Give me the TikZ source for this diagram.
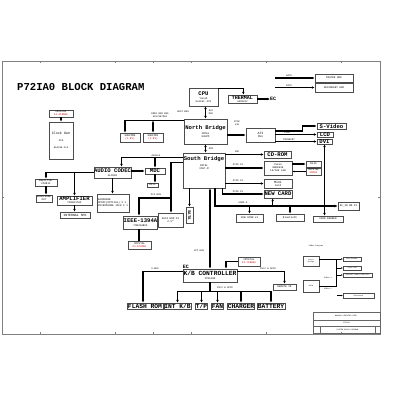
\documentclass[tikz,border=0pt]{standalone}
\usepackage{fontspec}
\newfontfamily\mono{Liberation Mono}
\usetikzlibrary{arrows.meta,calc}
\newcommand\bx[7][]{\node[box,minimum width={(#5-#3)*1pt},minimum height={(#6-#4)*1pt},#1] (#2) at ({(#3+#5)/2},{(#4+#6)/2}) {#7};}
\newcommand\B[1]{{\bfseries\fontsize{5.6}{6}\selectfont #1}}
\newcommand\BB[1]{{\bfseries\fontsize{6.3}{6.5}\selectfont #1}}
\newcommand\R[1]{\textcolor{red!80!black}{#1}}
\tikzset{
 box/.style={draw=black!70,line width=0.7pt,inner sep=0pt,align=center,font=\mono\fontsize{2.6}{3}\selectfont},
 arr/.style={line width=1.2pt,-{Latex[length=2.8pt,width=2.6pt]}},
 darr/.style={line width=1.2pt,{Latex[length=2.8pt,width=2.6pt]}-{Latex[length=2.8pt,width=2.6pt]}},
 ln/.style={line width=1.2pt},
 bus/.style={line width=1.8pt,-{Latex[length=3.2pt,width=3pt]}},
 lbl/.style={font=\mono\fontsize{2.4}{2.8}\selectfont,inner sep=0pt},
 tiny/.style={font=\mono\fontsize{1.8}{2.1}\selectfont,inner sep=0pt,align=center},
 ubox/.style={line width=0.35pt,font=\mono\fontsize{1.7}{2}\selectfont},
 uarr/.style={line width=0.35pt,-{Latex[length=1.6pt,width=1.4pt]}},
}
\begin{document}
\begin{tikzpicture}[x=1pt,y=-1pt]
\useasboundingbox[fill=white] (0,0) rectangle (400,400);
% frame
\draw[gray,line width=0.8pt] (2,61) rectangle (380,334);
\foreach \x in {40,115,153,191,266,341} {\draw[gray] (\x,61) -- (\x,63); \draw[gray] (\x,334) -- (\x,332);}
\draw[gray] (2,197) -- (4,197); \draw[gray] (380,197) -- (378,197);
% title
\node[font=\mono\bfseries\fontsize{10.6}{12}\selectfont,anchor=west,inner sep=0pt] (title) at (17,87) {P72IA0 BLOCK DIAGRAM};
% top
\bx{cpu}{189}{88}{218}{106}{\B{CPU}\\[1pt]Yonah\\Socket 479}
\bx{therm}{228}{95}{257}{103}{\bfseries\fontsize{5}{5}\selectfont THERMAL\\\mdseries\fontsize{2.4}{3}\selectfont ADM1032}
\node[font=\mono\bfseries\fontsize{5}{5}\selectfont,anchor=west,inner sep=0pt] (ec) at (270,99) {EC};
\bx{nb}{184}{119}{227}{144}{\B{North Bridge}\\[2pt]INTEL\\945PM}
\bx{ati}{246}{128}{275}{142}{\fontsize{3.2}{3.6}\selectfont ATI\\M56}
\bx{svideo}{317}{123}{346}{129}{\B{S-Video}}
\bx{lcd}{317}{132}{333}{137}{\B{LCD}}
\bx{dvi}{317}{139}{332}{144}{\B{DVI}}
\bx{mhdd}{315}{74}{353}{82}{MASTER HDD}
\bx{shdd}{315}{83}{353}{92}{SECONDARY HDD}
\bx{crys1}{49}{110}{73}{117}{CRYSTAL\\\R{14.318MHz}}
\bx{clk}{49}{122}{73}{159}{\fontsize{3.4}{4}\selectfont Clock Gen\\[4pt]ICS\\[4pt]\fontsize{2.4}{3}\selectfont 954310-CLK}
\bx{sod0}{120}{133}{140}{142}{SODIMM0\\\R{(1.8V)}}
\bx{sod1}{143}{133}{163}{142}{SODIMM1\\\R{(1.8V)}}
% south bridge and neighbours
\bx[text depth=0pt]{sb}{183}{153}{225}{188}{}
\node[box,draw=none,anchor=north] (sbt) at ([yshift=-3pt]sb.north) {\B{South Bridge}\\[3pt]INTEL\\ICH7-M};
\bx{codec}{94}{167}{131}{178}{\B{AUDIO CODEC}\\[1pt]ALC883}
\bx{mdc}{145}{168}{165}{174}{\B{MDC}}
\bx{rj11}{147}{183}{158}{187}{RJ11}
\bx{amp1}{35}{179}{57}{186}{Amplifier\\LM4811}
\bx{hp}{36}{195}{52}{202}{HEADPHONE\\OUT}
\bx{amp2}{57}{196}{92}{205}{\B{AMPLIFIER}\\TPA6017A2}
\bx{ispk}{60}{212}{90}{218}{\fontsize{3.2}{3.4}\selectfont INTERNAL SPK}
\bx[align=left]{ear}{97}{194}{129}{212}{EARPHONE\\SPDIF(OPTICAL) X 1\\MICROPHONE JACK X 1}
\bx{ieee}{125}{216}{156}{229}{\B{IEEE-1394A}\\[1pt]TSB43AB22}
\bx{crys2}{128}{241}{151}{249}{CRYSTAL\\\R{24.576MHz}}
\bx{sata}{158}{213}{183}{227}{SATA HDD X2\\2.5"}
\bx{vbox}{186}{207}{193}{223}{\rotatebox{-90}{\bfseries\fontsize{4}{4}\selectfont SATA}}
\bx{cdrom}{264}{151}{291}{158}{\B{CD-ROM}}
\bx{yukon}{264}{161}{292}{175}{Yukon\\88E8036\\10/100 LAN}
\bx{rj45}{306}{161}{321}{167}{RJ45}
\bx{xtal3}{306}{168}{321}{175}{CRYSTAL\\\R{25MHz}}
\bx{mini}{264}{179}{292}{188}{\fontsize{3.2}{3.6}\selectfont Mini\\Card}
\bx{newcard}{264}{190}{292}{198}{\B{NEW CARD}}
\bx{dcin}{338}{202}{359}{210}{DC\_IN BD X2}
\bx{usbconn}{236}{214}{263}{222}{USB CONN x3}
\bx{bt}{276}{214}{304}{221}{Bluetooth}
\bx{cardrd}{313}{216}{343}{222}{CARD READER}
% EC
\bx{kbc}{183}{269}{237}{282}{\BB{K/B CONTROLLER}\\[1pt]IT8510E}
\node[font=\mono\bfseries\fontsize{5}{5}\selectfont,anchor=south west,inner sep=0pt] (eclbl) at (kbc.north west) {EC};
\bx{crys4}{238}{257}{260}{266}{CRYSTAL\\\R{32.768KHz}}
\bx{remote}{273}{284}{296}{290}{REMOTE IR}
\bx{flash}{127}{303}{163}{309}{\BB{FLASH ROM}}
\bx{intkb}{164}{303}{191}{309}{\BB{INT K/B}}
\bx{tp}{196}{303}{207}{309}{\BB{T/P}}
\bx{fan}{212}{303}{223}{309}{\BB{FAN}}
\bx{charger}{228}{303}{254}{309}{\BB{CHARGER}}
\bx{battery}{257}{303}{285}{309}{\BB{BATTERY}}
% connectors top
\draw[arr] ([yshift=-1pt]cpu.north east) -| ([xshift=-14pt]therm.north east);
\draw[arr] (therm.east) -- (ec.west);
\draw[darr] (cpu.south -| nb.north) -- (nb.north);
\node[lbl,align=center] (hb) at (183,112) {HOST BUS};
\node[lbl,align=center] (mhz) at (211,112) {667\\MHz};
\coordinate (ddr) at ([yshift=-2pt]nb.north west);
\draw[arr] (ddr) -| ([xshift=-5pt]sod0.north);
\draw[darr] (ddr -| sod1.north) -- (sod1.north);
\node[lbl,align=center] (ddrl) at (160,115) {DDR2 RAM BUS\\533/667MHz};
\draw[arr] (nb.east |- ati.west) -- (ati.west);
\node[lbl,align=center] (pcie16) at (237,123) {PCIE\\x16};
\draw[arr] ([yshift=4pt]ati.east) -- ++(27,0) |- (svideo.west);
\draw[arr] (ati.east |- lcd.west) -- (lcd.west);
\draw[arr] (ati.east |- dvi.west) -- (dvi.west);
\node[lbl] (lvds) at (287,132.5) {LVDS};
\node[lbl] (tmds) at (289,139.5) {TMDS\&CRT};
\draw[darr] (dvi.south) -- (dvi.south |- cardrd.north);
\coordinate (s1) at (275,78); \coordinate (s2) at (275,87.5);
\draw[arr] (s1) -- (mhdd.west); \draw[arr] (s2) -- (shdd.west);
\node[lbl] (sl1) at (289,76) {SATA}; \node[lbl] (sl2) at (289,85.5) {PATA};
\draw[arr] (crys1.south) -- (clk.north);
% NB-SB
\draw[darr] (nb.south) -- (nb.south |- sb.north);
\node[lbl] (dmi) at (211,149) {DMI};
% azalia
\coordinate (az) at ([yshift=-5pt]sb.north west);
\draw[arr] (az) -| ([xshift=9pt]codec.north);
\draw[arr] (az -| mdc.north) -- (mdc.north);
\node[lbl] (azl) at (156,155.5) {AZALIA};
\draw[arr] (mdc.west -| codec.east) -- (mdc.west);
\draw[arr] (mdc.south) -- (mdc.south |- rj11.north);
\draw[arr] (codec.west) -| (amp1.north);
\draw[arr] (codec.west -| amp2.north) -- (amp2.north);
\draw[arr] (amp1.south) -- (amp1.south |- hp.north);
\draw[arr] (amp2.south) -- (amp2.south |- ispk.north);
\draw[arr] (codec.south) -- (codec.south |- ear.north);
% PCI bus
\coordinate (pci) at ([yshift=-10pt]sb.north west);
\coordinate (pj) at (171,198);
\draw[arr] (pci) -| (sata.north -| pj);
\draw[arr] (pj) -| (ieee.north -| 139,0);
\node[lbl] (pcil) at (156,195) {PCI BUS};
\draw[ln] (ieee.south -| 139,0) -- (crys2.north -| 139,0);
\draw[arr] (sb.south -| vbox.north) -- (vbox.north);
% LPC
\draw[darr] (sb.south -| kbc.north) -- (kbc.north);
\node[lbl] (lpc) at (199,251) {LPC BUS};
% USB bus
\draw[bus] ($(sb.south east)+(-10,0)$) |- (dcin.west);
\node[lbl] (usbl) at (243,203) {USB2.0};
\draw[arr] (usbconn.north |- dcin.west) -- (usbconn.north);
\draw[arr] (bt.north |- dcin.west) -- (bt.north);
\coordinate (nc) at ($(newcard.south west)+(9,0)$);
\draw[arr] (nc |- dcin.west) -- (nc);
% SB right
\draw[arr] (sb.east |- cdrom.west) -- (cdrom.west);
\draw[arr] (sb.east |- yukon.west) -- (yukon.west);
\draw[arr] (sb.east |- mini.west) -- (mini.west);
\draw[arr] ($(sb.south east)+(-3,0)$) |- (newcard.west);
\node[lbl] (idel) at (237,151.5) {IDE};
\node[lbl] (p1) at (238,164.5) {PCIE X1};
\node[lbl] (p2) at (238,180.5) {PCIE X1};
\node[lbl] (p3) at (238,191.5) {PCIE X1};
\draw[arr] (yukon.east |- rj45.west) -- (rj45.west);
\draw[-{Latex[length=2pt,width=1.8pt]},line width=0.5pt] (xtal3.west) -- (xtal3.west -| yukon.east);
% EC connectors
\draw[arr] (crys4.west) -| ([xshift=16pt]kbc.north);
\draw[arr] ([yshift=-3pt]kbc.north west) -| ([xshift=-2pt]flash.north);
\node[lbl] (xbus) at (155,268.5) {X-BUS};
\draw[arr] ([yshift=-3pt]kbc.north east) -| (remote.north);
\node[lbl] (ps1) at (268,268.5) {PS/2 \& GPIO};
\draw[ln] (kbc.south) -- ++(0,9) coordinate (pb);
\draw[ln] (intkb.north |- pb) -- (battery.north |- pb);
\foreach \n in {intkb,tp,fan,charger,battery} \draw[arr] (\n.north |- pb) -- (\n.north);
\node[lbl] (ps2) at (225,287.5) {PS/2 \& GPIO};
% USB inset
\node[tiny] (ut) at (316,246) {USBus Diagram};
\bx[ubox]{usb1}{303}{256}{319}{266}{South\\Bridge}
\bx[ubox]{usb2}{303}{280}{319}{292}{MAIN}
\bx[ubox]{u1}{343}{257}{361}{261}{Card Reader}
\bx[ubox]{u2}{343}{266}{361}{270}{Touch Pad}
\bx[ubox]{u3}{343}{273}{372}{277}{Internal Camera USB Port}
\bx[ubox]{u4}{343}{293}{374}{298}{Bluetooth}
\coordinate (uj) at (336,286);
\draw[uarr] (usb1.east |- u1.west) -- (u1.west);
\draw[line width=0.35pt] (usb2.east |- uj) -- (uj) -- (uj |- u1.west);
\draw[uarr] (uj |- u2.west) -- (u2.west);
\draw[uarr] (uj |- u3.west) -- (u3.west);
\draw[uarr] ([xshift=-6pt]u4.west) -- (u4.west);
\node[tiny] (ub1) at (328,277.5) {USBus 1};
\node[tiny] (ub2) at (328,288.5) {USBus 2};
% title block
\draw[gray!80!black,line width=0.5pt] (313,312) rectangle (380,333);
\draw[gray!80!black,line width=0.4pt] (313,320) -- (380,320) (313,326) -- (380,326) (320,326) -- (320,333) (375,326) -- (375,333);
\node[tiny] (tb1) at (346.5,316) {WANHUA COMPUTER CORP.};
\node[tiny] (tb2) at (346.5,323) {P72IA0};
\node[tiny] (tb3) at (347.5,329.5) {SYSTEM BLOCK DIAGRAM};
\end{tikzpicture}
\end{document}
